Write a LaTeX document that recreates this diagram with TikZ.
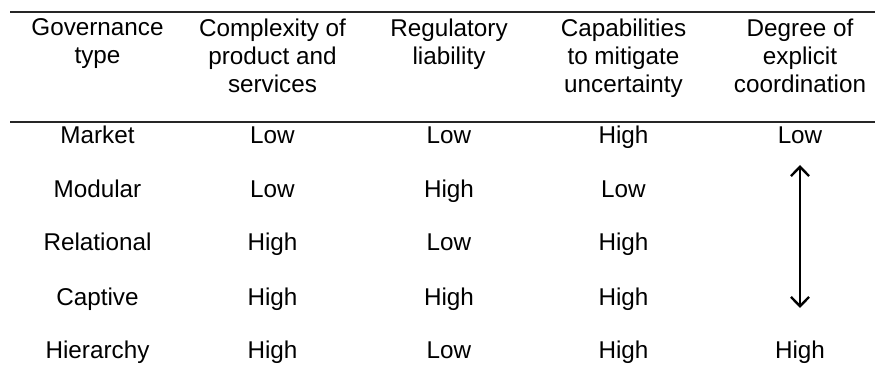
\documentclass[tikz,border=0pt]{standalone}
\usepackage{fontspec}
\setmainfont{Liberation Sans}
\usetikzlibrary{arrows.meta}
\begin{document}
\begin{tikzpicture}[x=0.75pt,y=-0.75pt,
  txt/.style={inner sep=0pt,font=\fontsize{18.2}{21}\selectfont,text=black},
  head/.style={txt,align=center,anchor=north},
  cell/.style={txt,anchor=base},
  rule/.style={line width=1.3pt,black!85},
  twoway/.style={line width=1.8pt,{Straight Barb[length=7pt,width=13.5pt,line width=1.8pt]}-{Straight Barb[length=7pt,width=13.5pt,line width=1.8pt]}}]
\useasboundingbox (0,0) rectangle (875,381);
\coordinate (t0) at (10,12);
\coordinate (t1) at (875,12);
\coordinate (m0) at (10,122);
\coordinate (m1) at (875,122);
\draw[rule] (t0) -- (t1);
\draw[rule] (m0) -- (m1);
% headers
\node[head] (h1) at (97.5,18.5) {Governance\\type};
\node[head] (h2) at (272.5,18.5) {Complexity of\\product and\\services};
\node[head] (h3) at (449,18.5) {Regulatory\\liability};
\node[head] (h4) at (623.5,18.5) {Capabilities\\to mitigate\\uncertainty};
\node[head] (h5) at (800,18.5) {Degree of\\explicit\\coordination};
% rows
\node[cell] (r1c1) at (97.5,144) {Market};
\node[cell] (r1c2) at (272.5,144) {Low};
\node[cell] (r1c3) at (449,144) {Low};
\node[cell] (r1c4) at (623.5,144) {High};
\node[cell] (r1c5) at (800,144) {Low};
\node[cell] (r2c1) at (97.5,198) {Modular};
\node[cell] (r2c2) at (272.5,198) {Low};
\node[cell] (r2c3) at (449,198) {High};
\node[cell] (r2c4) at (623.5,198) {Low};
\node[cell] (r3c1) at (97.5,251) {Relational};
\node[cell] (r3c2) at (272.5,251) {High};
\node[cell] (r3c3) at (449,251) {Low};
\node[cell] (r3c4) at (623.5,251) {High};
\node[cell] (r4c1) at (97.5,305) {Captive};
\node[cell] (r4c2) at (272.5,305) {High};
\node[cell] (r4c3) at (449,305) {High};
\node[cell] (r4c4) at (623.5,305) {High};
\node[cell] (r5c1) at (97.5,358) {Hierarchy};
\node[cell] (r5c2) at (272.5,358) {High};
\node[cell] (r5c3) at (449,358) {Low};
\node[cell] (r5c4) at (623.5,358) {High};
\node[cell] (r5c5) at (800,358) {High};
% arrow
\coordinate (a0) at (800,165);
\coordinate (a1) at (800,308);
\draw[twoway] (a0) -- (a1);
\end{tikzpicture}
\end{document}
